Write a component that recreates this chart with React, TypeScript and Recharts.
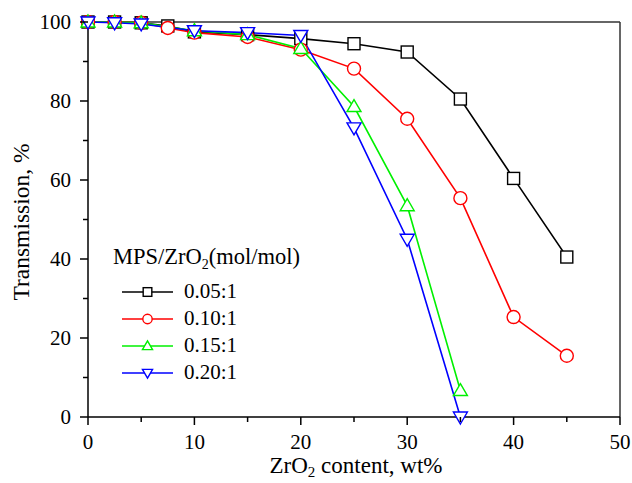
import React from 'react';
import { LineChart, Line, XAxis, YAxis, ReferenceLine, Legend, Label } from 'recharts';

// wt% ZrO2 for each ratio
const xBlack = [0, 2.5, 5, 7.5, 10, 15, 20, 25, 30, 35, 40, 45];
const yBlack = [100, 100, 99.8, 99, 97.5, 96.8, 95.8, 94.5, 92.4, 80.5, 60.4, 40.5];
const xRed = [0, 2.5, 5, 7.5, 10, 15, 20, 25, 30, 35, 40, 45];
const yRed = [100, 100, 99.8, 98.5, 97.3, 96.2, 93, 88.2, 75.5, 55.4, 25.3, 15.5];
const xGreen = [0, 2.5, 5, 10, 15, 20, 25, 30, 35];
const yGreen = [100, 100, 99.8, 97.8, 96.8, 93.3, 78.6, 53.5, 6.7];
const xBlue = [0, 2.5, 5, 10, 15, 20, 25, 30, 35];
const yBlue = [100, 99.8, 99.5, 97.8, 97.3, 96.6, 73.2, 45, 0];

const xTicks = [0, 5, 10, 15, 20, 25, 30, 35, 40, 45, 50];
const yTicks = [0, 10, 20, 30, 40, 50, 60, 70, 80, 90, 100];

const FONT = '"Liberation Serif", "Times New Roman", serif';

const zip = (xs: number[], ys: number[]) => xs.map((x, i) => ({ x, y: ys[i] }));

const series = [
  { name: '0.05:1', color: '#000000', shape: 'square', data: zip(xBlack, yBlack) },
  { name: '0.10:1', color: '#ff0000', shape: 'circle', data: zip(xRed, yRed) },
  { name: '0.15:1', color: '#00f000', shape: 'up', data: zip(xGreen, yGreen) },
  { name: '0.20:1', color: '#0000ff', shape: 'down', data: zip(xBlue, yBlue) },
];

function Marker({ cx, cy, shape, color, s = 1 }: any) {
  const common = { fill: '#fff', stroke: color, strokeWidth: 1.4 };
  if (shape === 'square') {
    const h = 6 * s;
    return <rect x={cx - h} y={cy - h} width={h * 2} height={h * 2} {...common} />;
  }
  if (shape === 'circle') return <circle cx={cx} cy={cy} r={6.5 * s} {...common} />;
  if (shape === 'up') {
    const pts = `${cx},${cy - 7 * s} ${cx + 7 * s},${cy + 5 * s} ${cx - 7 * s},${cy + 5 * s}`;
    return <polygon points={pts} {...common} />;
  }
  const pts = `${cx},${cy + 7 * s} ${cx + 7 * s},${cy - 5 * s} ${cx - 7 * s},${cy - 5 * s}`;
  return <polygon points={pts} {...common} />;
}

const XTick = ({ x, y, payload }: any) => {
  const major = payload.value % 10 === 0;
  return (
    <g>
      <line x1={x} x2={x} y1={y} y2={y + (major ? 8 : 5)} stroke="#000" strokeWidth={1.5} />
      {major && (
        <text x={x} y={y + 32} textAnchor="middle" fontSize={21} fontFamily={FONT} fill="#000">
          {payload.value}
        </text>
      )}
    </g>
  );
};

const YTick = ({ x, y, payload }: any) => {
  const major = payload.value % 20 === 0;
  return (
    <g>
      <line x1={x} x2={x - (major ? 8 : 5)} y1={y} y2={y} stroke="#000" strokeWidth={1.5} />
      {major && (
        <text x={x - 17} y={y + 7} textAnchor="end" fontSize={21} fontFamily={FONT} fill="#000">
          {payload.value}
        </text>
      )}
    </g>
  );
};

const LegendBox = () => (
  <div style={{ fontFamily: FONT, color: '#000', textAlign: 'left' }}>
    <div style={{ fontSize: 22.5, lineHeight: '26px', marginBottom: 8, whiteSpace: 'nowrap' }}>
      MPS/ZrO<sub style={{ fontSize: 14, verticalAlign: '-5px', lineHeight: 0 }}>2</sub>(mol/mol)
    </div>
    {series.map((s) => (
      <div key={s.name} style={{ display: 'flex', alignItems: 'center', height: 27, marginLeft: 9 }}>
        <svg width={51} height={20} style={{ marginRight: 11 }}>
          <line x1={0} x2={51} y1={10} y2={10} stroke={s.color} strokeWidth={1.5} />
          <Marker cx={25.5} cy={10} shape={s.shape} color={s.color} s={0.72} />
        </svg>
        <span style={{ fontSize: 21 }}>{s.name}</span>
      </div>
    ))}
  </div>
);

export default function App() {
  return (
    <div style={{ position: 'absolute', left: 0, top: 0, width: 632, height: 483, background: '#fff' }}>
      <LineChart width={632} height={483} margin={{ top: 22, right: 12, bottom: 0, left: 0 }}>
        <XAxis
          type="number"
          dataKey="x"
          domain={[0, 50]}
          ticks={xTicks}
          interval={0}
          height={66}
          tickSize={0}
          tickMargin={0}
          tickLine={false}
          axisLine={{ stroke: '#000', strokeWidth: 1.5 }}
          tick={<XTick />}
        >
          <Label
            content={({ viewBox }: any) => (
              <text
                x={viewBox.x + viewBox.width / 2 + 2}
                y={viewBox.y + 56}
                textAnchor="middle"
                fontSize={23}
                fontFamily={FONT}
                fill="#000"
              >
                ZrO
                <tspan fontSize={15} dy={4}>2</tspan>
                <tspan dy={-4}> content, wt%</tspan>
              </text>
            )}
          />
        </XAxis>
        <YAxis
          type="number"
          domain={[0, 100]}
          ticks={yTicks}
          interval={0}
          width={88}
          tickSize={0}
          tickMargin={0}
          tickLine={false}
          axisLine={{ stroke: '#000', strokeWidth: 1.5 }}
          tick={<YTick />}
        >
          <Label
            content={({ viewBox }: any) => {
              const cy = viewBox.y + viewBox.height / 2 + 2.5;
              return (
                <text
                  transform={`translate(29,${cy}) rotate(-90)`}
                  textAnchor="middle"
                  fontSize={23.5}
                  fontFamily={FONT}
                  fill="#000"
                >
                  Transmission, %
                </text>
              );
            }}
          />
        </YAxis>
        <ReferenceLine y={100} stroke="#333" strokeWidth={1.5} />
        <ReferenceLine x={50} stroke="#333" strokeWidth={1.5} />
        {series.map((s) => (
          <Line
            key={s.name}
            data={s.data}
            dataKey="y"
            name={s.name}
            stroke={s.color}
            strokeWidth={1.6}
            isAnimationActive={false}
            dot={(p: any) => <Marker key={`${s.name}-${p.index}`} cx={p.cx} cy={p.cy} shape={s.shape} color={s.color} />}
            activeDot={false}
          />
        ))}
        <Legend
          layout="vertical"
          align="center"
          verticalAlign="middle"
          content={<LegendBox />}
          wrapperStyle={{ position: 'absolute', left: 113, top: 244, width: 'auto', height: 'auto' }}
        />
      </LineChart>
    </div>
  );
}
